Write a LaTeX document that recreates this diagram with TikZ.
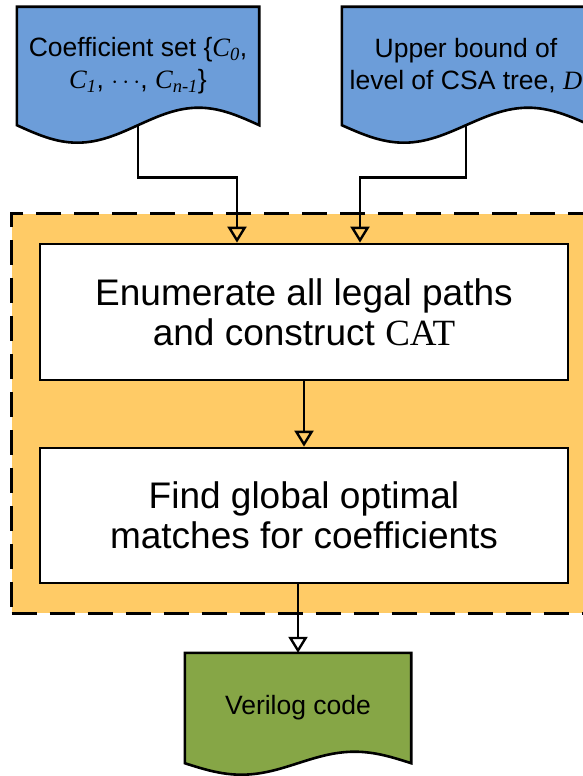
\documentclass[tikz,border=0pt]{standalone}
\usepackage{fontspec}
\setmainfont{Liberation Sans}
\newfontfamily\timesfont{Liberation Serif}
\usetikzlibrary{arrows.meta,calc,fit,backgrounds}

\definecolor{docblue}{RGB}{108,157,217}
\definecolor{grouporange}{RGB}{255,203,102}
\definecolor{codegreen}{RGB}{134,166,70}

\newcommand{\tv}[1]{{\timesfont\itshape #1}}

% outline of a document shape round a text node
\newcommand{\docshape}[3]{%
  \path[draw, line width=2.6pt, fill=#2] let \p1=(#1.north west), \p2=(#1.south east),
    \n1={(\x2-\x1)/4} in
    (\p1) -- (\x2,\y1) -- (\p2) sin ++(-\n1,#3) cos ++(-\n1,-#3)
    sin ++(-\n1,-#3) cos ++(-\n1,#3) -- cycle;
}

\tikzset{
  docnode/.style={inner sep=0pt, align=center, font=\fontsize{26.5}{32}\selectfont},
  stepbox/.style={draw, line width=2.8pt, fill=white, inner sep=0pt,
    minimum width=528pt, align=center, font=\fontsize{37}{40}\selectfont},
  group/.style={draw, dash pattern=on 25pt off 13pt, line width=3pt,
    fill=grouporange, inner xsep=27pt, inner ysep=29pt},
  flow/.style={line width=2.8pt, -{Triangle[open, length=16pt, width=19pt, line width=2.4pt]}}
}

\begin{document}
\begin{tikzpicture}[x=1pt, y=-1pt]
\useasboundingbox (0,0) rectangle (582,776);

% Inputs
\node [docnode, minimum width=242pt, minimum height=118pt] (cs) at (138,66)
  {Coefficient set \{\tv{C}\textsubscript{\tv{0}},\\
   \tv{C}\textsubscript{\tv{1}}, $\cdots$, \tv{C}\textsubscript{\tv{n-1}}\}};

\node [docnode, minimum width=248pt, minimum height=118pt] (ub) at (466,66)
  {Upper bound of\\ level of CSA tree, \tv{D}};

% Steps
\node [stepbox, minimum height=136pt] (enum) at (304,312)
  {Enumerate all legal paths\\ and construct {\timesfont CAT}};

\node [stepbox, minimum height=135pt] (find) at (304,515.5)
  {Find global optimal\\ matches for coefficients};

% Output
\node [docnode, minimum width=226pt, minimum height=110pt] (vl) at (298,708)
  {Verilog code};

\begin{scope}[on background layer]
  \node [group, fit=(enum)(find)] (grp) {};
  \docshape{cs}{docblue}{17.5pt}
  \docshape{ub}{docblue}{17.5pt}
  \docshape{vl}{codegreen}{11.5pt}
\end{scope}

% Connectors
\draw [flow] (cs.south) -- ++(0,52) -| ([xshift=-67pt]enum.north);
\draw [flow] (ub.south) -- ++(0,52) -| ([xshift=56pt]enum.north);
\draw [flow] (enum) -- (find);
\draw [flow] (find.south -| vl.north) -- (vl.north);

\end{tikzpicture}
\end{document}
